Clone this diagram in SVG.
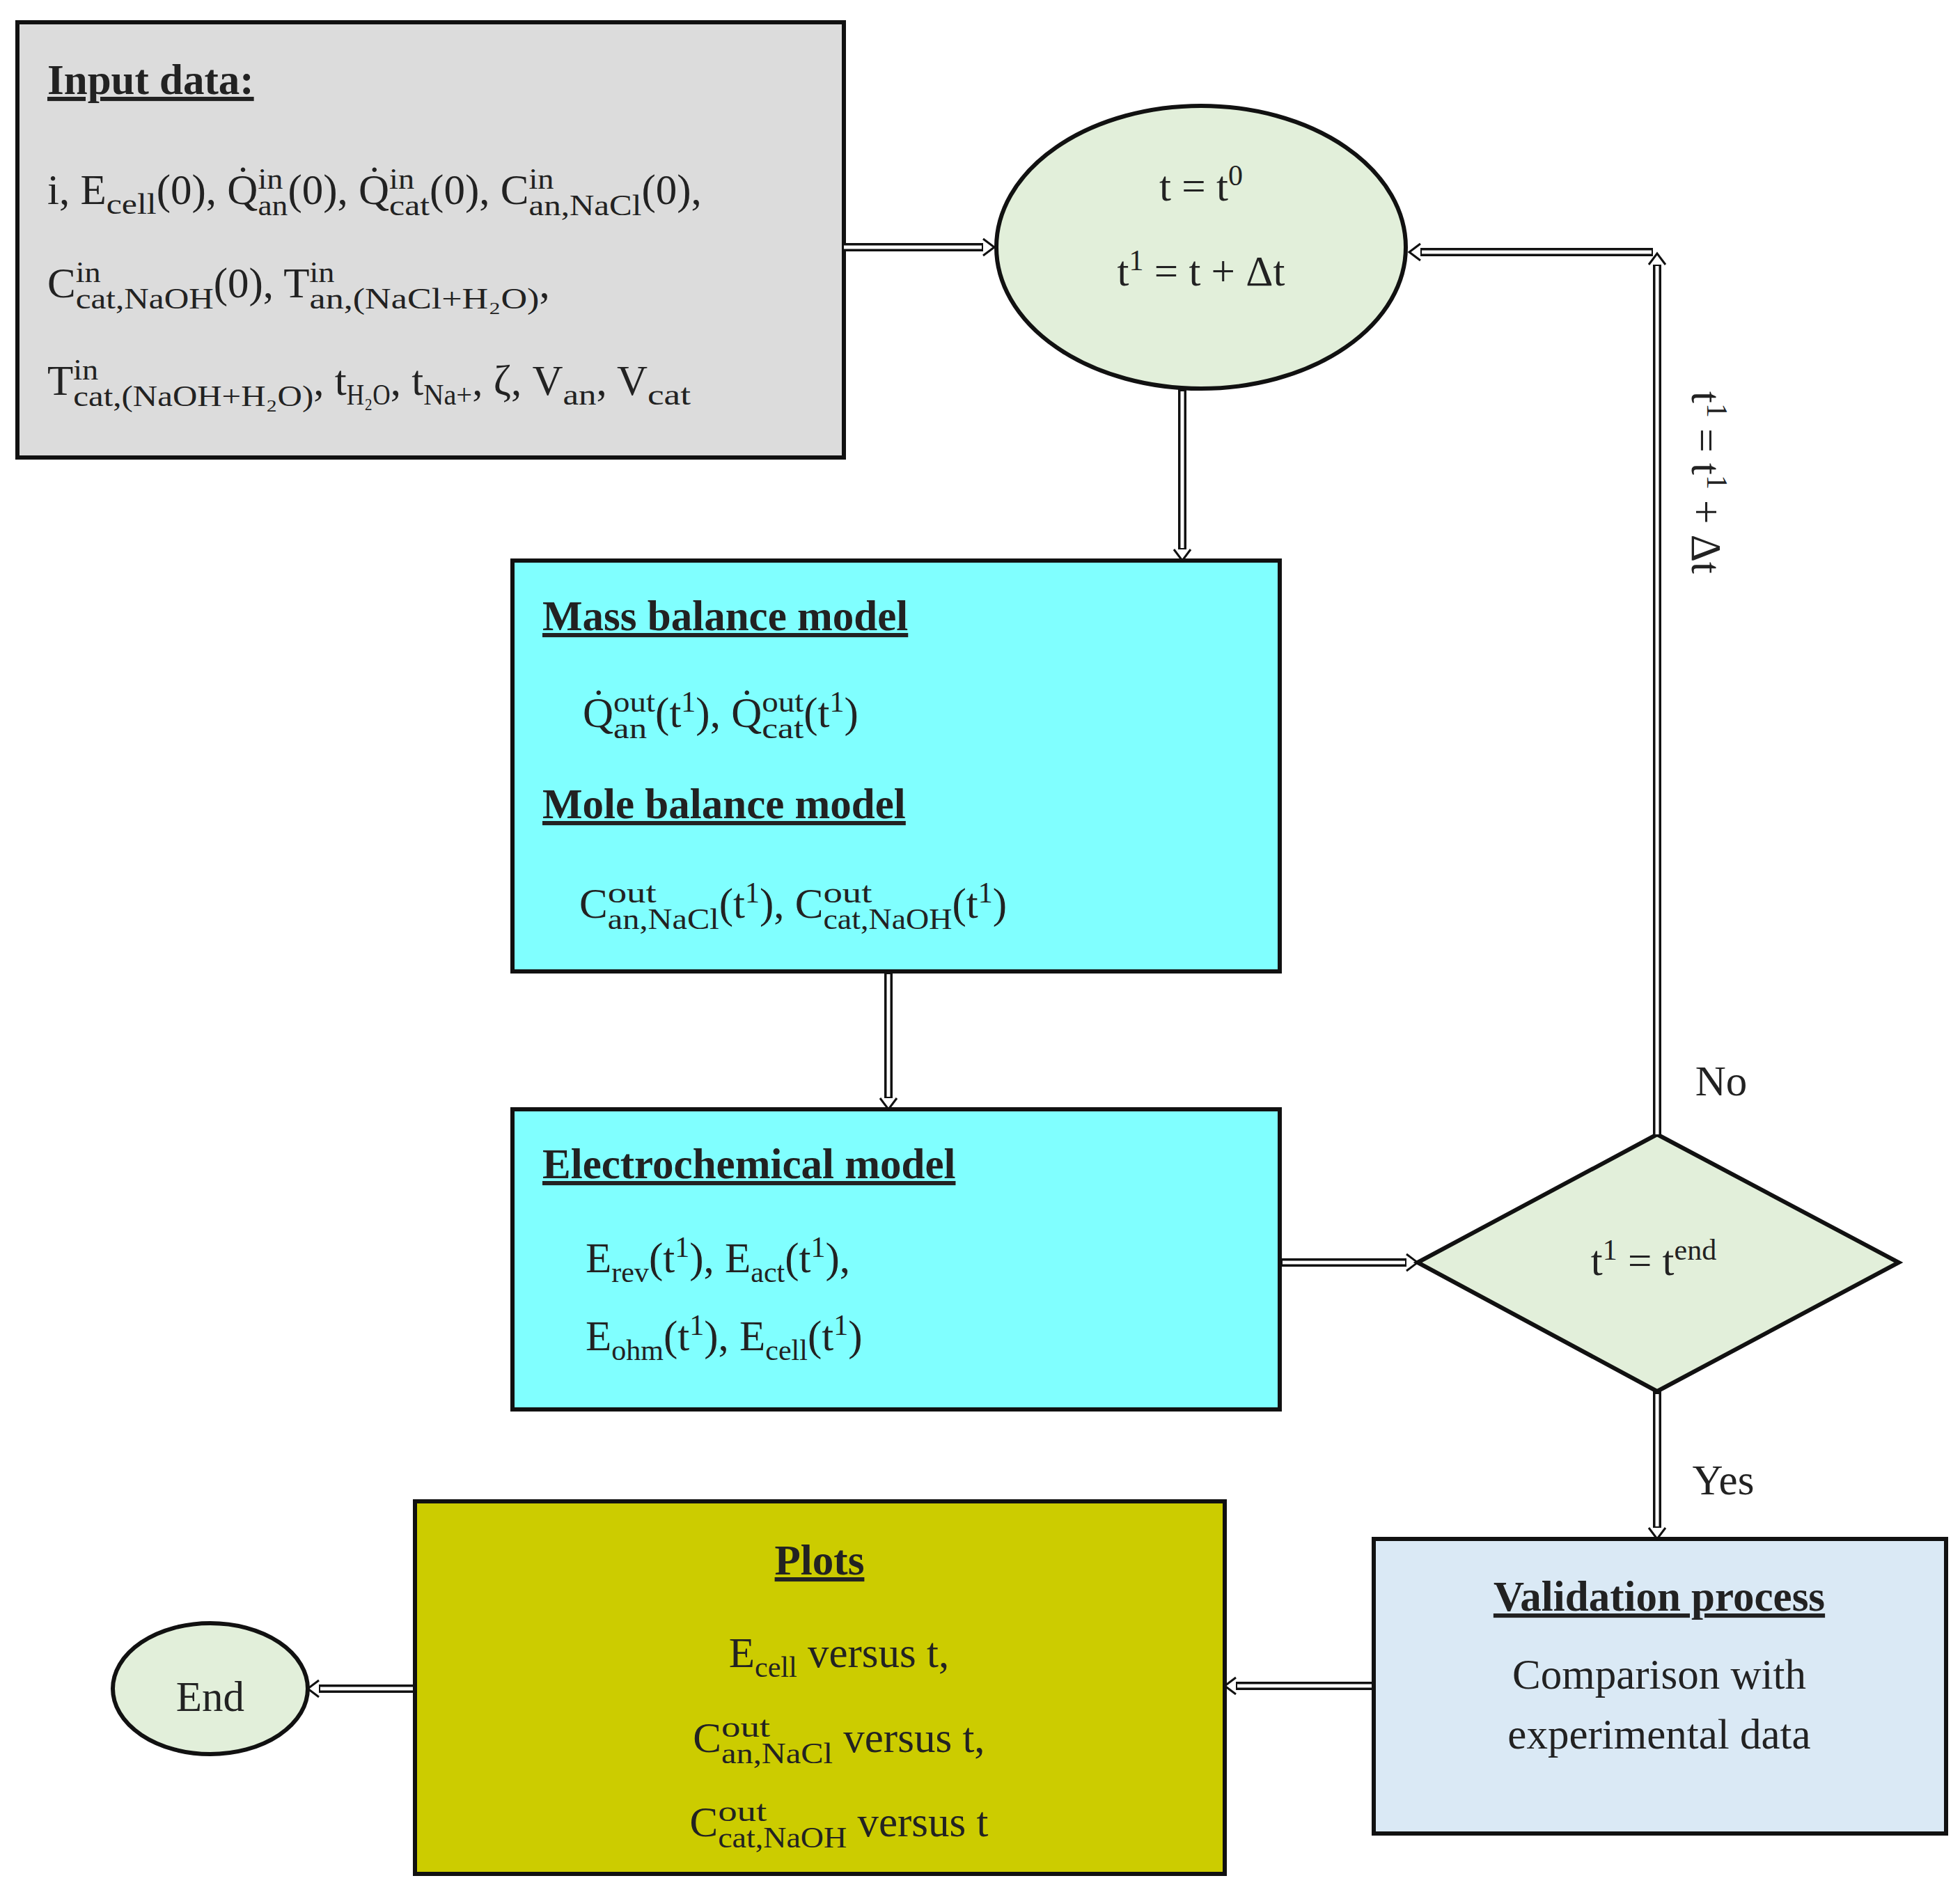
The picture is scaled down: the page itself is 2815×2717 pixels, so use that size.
<svg xmlns="http://www.w3.org/2000/svg" width="2815" height="2717" viewBox="0 0 2815 2717">
<style>
.t{font-family:"Liberation Serif","DejaVu Serif",serif;font-size:61px;fill:#222}
.h{font-weight:bold;text-decoration:underline}
.s{font-size:42px}
.box{stroke:#111;stroke-width:6}
.a1{fill:none;stroke:#111;stroke-width:12}
.a2{fill:none;stroke:#fff;stroke-width:5}
.hd{fill:none;stroke:#111;stroke-width:3}
</style>
<rect width="2815" height="2717" fill="#fff"/>
<g id="input">
<rect class="box" x="25" y="32" width="1187" height="625" fill="#dcdcdc"/>
<text class="t h" x="68" y="135">Input data:</text>
<text class="t" x="68" y="293">i, E<tspan class="s" dy="14" textLength="72" lengthAdjust="spacingAndGlyphs">cell</tspan><tspan dy="-14">(0), Q̇</tspan><tspan class="s" dy="-22" textLength="36" lengthAdjust="spacingAndGlyphs">in</tspan><tspan class="s" dx="-36" dy="38" textLength="43" lengthAdjust="spacingAndGlyphs">an</tspan><tspan dy="-16">(0), Q̇</tspan><tspan class="s" dy="-22" textLength="36" lengthAdjust="spacingAndGlyphs">in</tspan><tspan class="s" dx="-36" dy="38" textLength="58" lengthAdjust="spacingAndGlyphs">cat</tspan><tspan dy="-16">(0), C</tspan><tspan class="s" dy="-22" textLength="36" lengthAdjust="spacingAndGlyphs">in</tspan><tspan class="s" dx="-36" dy="38" textLength="162" lengthAdjust="spacingAndGlyphs">an,NaCl</tspan><tspan dy="-16">(0),</tspan></text>
<text class="t" x="68" y="427">C<tspan class="s" dy="-22" textLength="36" lengthAdjust="spacingAndGlyphs">in</tspan><tspan class="s" dx="-36" dy="38" textLength="198" lengthAdjust="spacingAndGlyphs">cat,NaOH</tspan><tspan dy="-16">(0), T</tspan><tspan class="s" dy="-22" textLength="36" lengthAdjust="spacingAndGlyphs">in</tspan><tspan class="s" dx="-36" dy="38" textLength="330" lengthAdjust="spacingAndGlyphs">an,(NaCl+H₂O)</tspan><tspan dy="-16">,</tspan></text>
<text class="t" x="68" y="567">T<tspan class="s" dy="-22" textLength="36" lengthAdjust="spacingAndGlyphs">in</tspan><tspan class="s" dx="-36" dy="38" textLength="345" lengthAdjust="spacingAndGlyphs">cat,(NaOH+H₂O)</tspan><tspan dy="-16">, t</tspan><tspan class="s" dy="14" textLength="63" lengthAdjust="spacingAndGlyphs">H₂O</tspan><tspan dy="-14">, t</tspan><tspan class="s" dy="14" textLength="70" lengthAdjust="spacingAndGlyphs">Na+</tspan><tspan dy="-14">, ζ, V</tspan><tspan class="s" dy="14" textLength="48" lengthAdjust="spacingAndGlyphs">an</tspan><tspan dy="-14">, V</tspan><tspan class="s" dy="14" textLength="62" lengthAdjust="spacingAndGlyphs">cat</tspan></text>
</g>
<g id="start">
<ellipse class="box" cx="1725" cy="355" rx="294" ry="203" fill="#e2efda"/>
<text class="t" x="1725" y="288" text-anchor="middle">t = t<tspan class="s" dy="-22">0</tspan></text>
<text class="t" x="1725" y="410" text-anchor="middle">t<tspan class="s" dy="-22">1</tspan><tspan dy="22"> = t + Δt</tspan></text>
</g>
<g id="mass">
<rect class="box" x="736" y="805" width="1102" height="590" fill="#80ffff"/>
<text class="t h" x="779" y="905">Mass balance model</text>
<text class="t" x="837" y="1044">Q̇<tspan class="s" dy="-22" textLength="60" lengthAdjust="spacingAndGlyphs">out</tspan><tspan class="s" dx="-60" dy="38" textLength="48" lengthAdjust="spacingAndGlyphs">an</tspan><tspan dx="12" dy="-16">(t</tspan><tspan class="s" dy="-22">1</tspan><tspan dy="22">), Q̇</tspan><tspan class="s" dy="-22" textLength="60" lengthAdjust="spacingAndGlyphs">out</tspan><tspan class="s" dx="-60" dy="38" textLength="60" lengthAdjust="spacingAndGlyphs">cat</tspan><tspan dy="-16">(t</tspan><tspan class="s" dy="-22">1</tspan><tspan dy="22">)</tspan></text>
<text class="t h" x="779" y="1175">Mole balance model</text>
<text class="t" x="832" y="1318">C<tspan class="s" dy="-22" textLength="70" lengthAdjust="spacingAndGlyphs">out</tspan><tspan class="s" dx="-70" dy="38" textLength="160" lengthAdjust="spacingAndGlyphs">an,NaCl</tspan><tspan dy="-16">(t</tspan><tspan class="s" dy="-22">1</tspan><tspan dy="22">), C</tspan><tspan class="s" dy="-22" textLength="70" lengthAdjust="spacingAndGlyphs">out</tspan><tspan class="s" dx="-70" dy="38" textLength="185" lengthAdjust="spacingAndGlyphs">cat,NaOH</tspan><tspan dy="-16">(t</tspan><tspan class="s" dy="-22">1</tspan><tspan dy="22">)</tspan></text>
</g>
<g id="electro">
<rect class="box" x="736" y="1593" width="1102" height="431" fill="#80ffff"/>
<text class="t h" x="779" y="1692">Electrochemical model</text>
<text class="t" x="841" y="1827">E<tspan class="s" dy="14">rev</tspan><tspan dy="-14">(t</tspan><tspan class="s" dy="-22">1</tspan><tspan dy="22">), E</tspan><tspan class="s" dy="14">act</tspan><tspan dy="-14">(t</tspan><tspan class="s" dy="-22">1</tspan><tspan dy="22">),</tspan></text>
<text class="t" x="841" y="1939">E<tspan class="s" dy="14">ohm</tspan><tspan dy="-14">(t</tspan><tspan class="s" dy="-22">1</tspan><tspan dy="22">), E</tspan><tspan class="s" dy="14">cell</tspan><tspan dy="-14">(t</tspan><tspan class="s" dy="-22">1</tspan><tspan dy="22">)</tspan></text>
</g>
<g id="decision">
<polygon class="box" points="2036,1813 2380,1629 2727,1813 2380,1998" fill="#e2efda"/>
<text class="t" x="2375" y="1831" text-anchor="middle">t<tspan class="s" dy="-22">1</tspan><tspan dy="22"> = t</tspan><tspan class="s" dy="-22">end</tspan></text>
</g>
<g id="validation">
<rect class="box" x="1973" y="2210" width="822" height="423" fill="#dae9f5"/>
<text class="t h" x="2383" y="2313" text-anchor="middle">Validation process</text>
<text class="t" x="2383" y="2425" text-anchor="middle">Comparison with</text>
<text class="t" x="2383" y="2511" text-anchor="middle">experimental data</text>
</g>
<g id="plots">
<rect class="box" x="596" y="2156" width="1163" height="535" fill="#cccc00"/>
<text class="t h" x="1177" y="2261" text-anchor="middle">Plots</text>
<text class="t" x="1205" y="2394" text-anchor="middle">E<tspan class="s" dy="14">cell</tspan><tspan dy="-14"> versus t,</tspan></text>
<text class="t" x="1205" y="2516" text-anchor="middle">C<tspan class="s" dy="-22" textLength="70" lengthAdjust="spacingAndGlyphs">out</tspan><tspan class="s" dx="-70" dy="38" textLength="160" lengthAdjust="spacingAndGlyphs">an,NaCl</tspan><tspan dy="-16"> versus t,</tspan></text>
<text class="t" x="1205" y="2637" text-anchor="middle">C<tspan class="s" dy="-22" textLength="70" lengthAdjust="spacingAndGlyphs">out</tspan><tspan class="s" dx="-70" dy="38" textLength="185" lengthAdjust="spacingAndGlyphs">cat,NaOH</tspan><tspan dy="-16"> versus t</tspan></text>
</g>
<g id="end">
<ellipse class="box" cx="302" cy="2425" rx="140" ry="94" fill="#e2efda"/>
<text class="t" x="302" y="2457" text-anchor="middle">End</text>
</g>
<g id="connectors">
<path class="a1" d="M1212,355 H1412"/><path class="a2" d="M1212,355 H1410"/><polyline class="hd" points="1412,343 1428,355 1412,367"/>
<path class="a1" d="M2380,1629 V380"/><path class="a2" d="M2380,1629 V382"/><polyline class="hd" points="2368,380 2380,364 2392,380"/>
<path class="a1" d="M2374,362 H2040"/><path class="a2" d="M2372,362 H2042"/><polyline class="hd" points="2040,350 2024,362 2040,374"/>
<path class="a1" d="M1698,558 V789"/><path class="a2" d="M1698,562 V787"/><polyline class="hd" points="1686,789 1698,805 1710,789"/>
<path class="a1" d="M1276,1395 V1577"/><path class="a2" d="M1276,1399 V1575"/><polyline class="hd" points="1264,1577 1276,1593 1288,1577"/>
<path class="a1" d="M1838,1813 H2020"/><path class="a2" d="M1842,1813 H2018"/><polyline class="hd" points="2020,1801 2036,1813 2020,1825"/>
<path class="a1" d="M2380,1998 V2194"/><path class="a2" d="M2380,2002 V2192"/><polyline class="hd" points="2368,2194 2380,2210 2392,2194"/>
<path class="a1" d="M1973,2421 H1775"/><path class="a2" d="M1970,2421 H1777"/><polyline class="hd" points="1775,2409 1759,2421 1775,2433"/>
<path class="a1" d="M596,2425 H458"/><path class="a2" d="M593,2425 H460"/><polyline class="hd" points="458,2413 442,2425 458,2437"/>
<text class="t" x="2472" y="1573" text-anchor="middle">No</text>
<text class="t" x="2475" y="2146" text-anchor="middle">Yes</text>
<text class="t" transform="translate(2430,693) rotate(90)" text-anchor="middle">t<tspan class="s" dy="-22">1</tspan><tspan dy="22"> = t</tspan><tspan class="s" dy="-22">1</tspan><tspan dy="22"> + Δt</tspan></text>
</g>
</svg>
